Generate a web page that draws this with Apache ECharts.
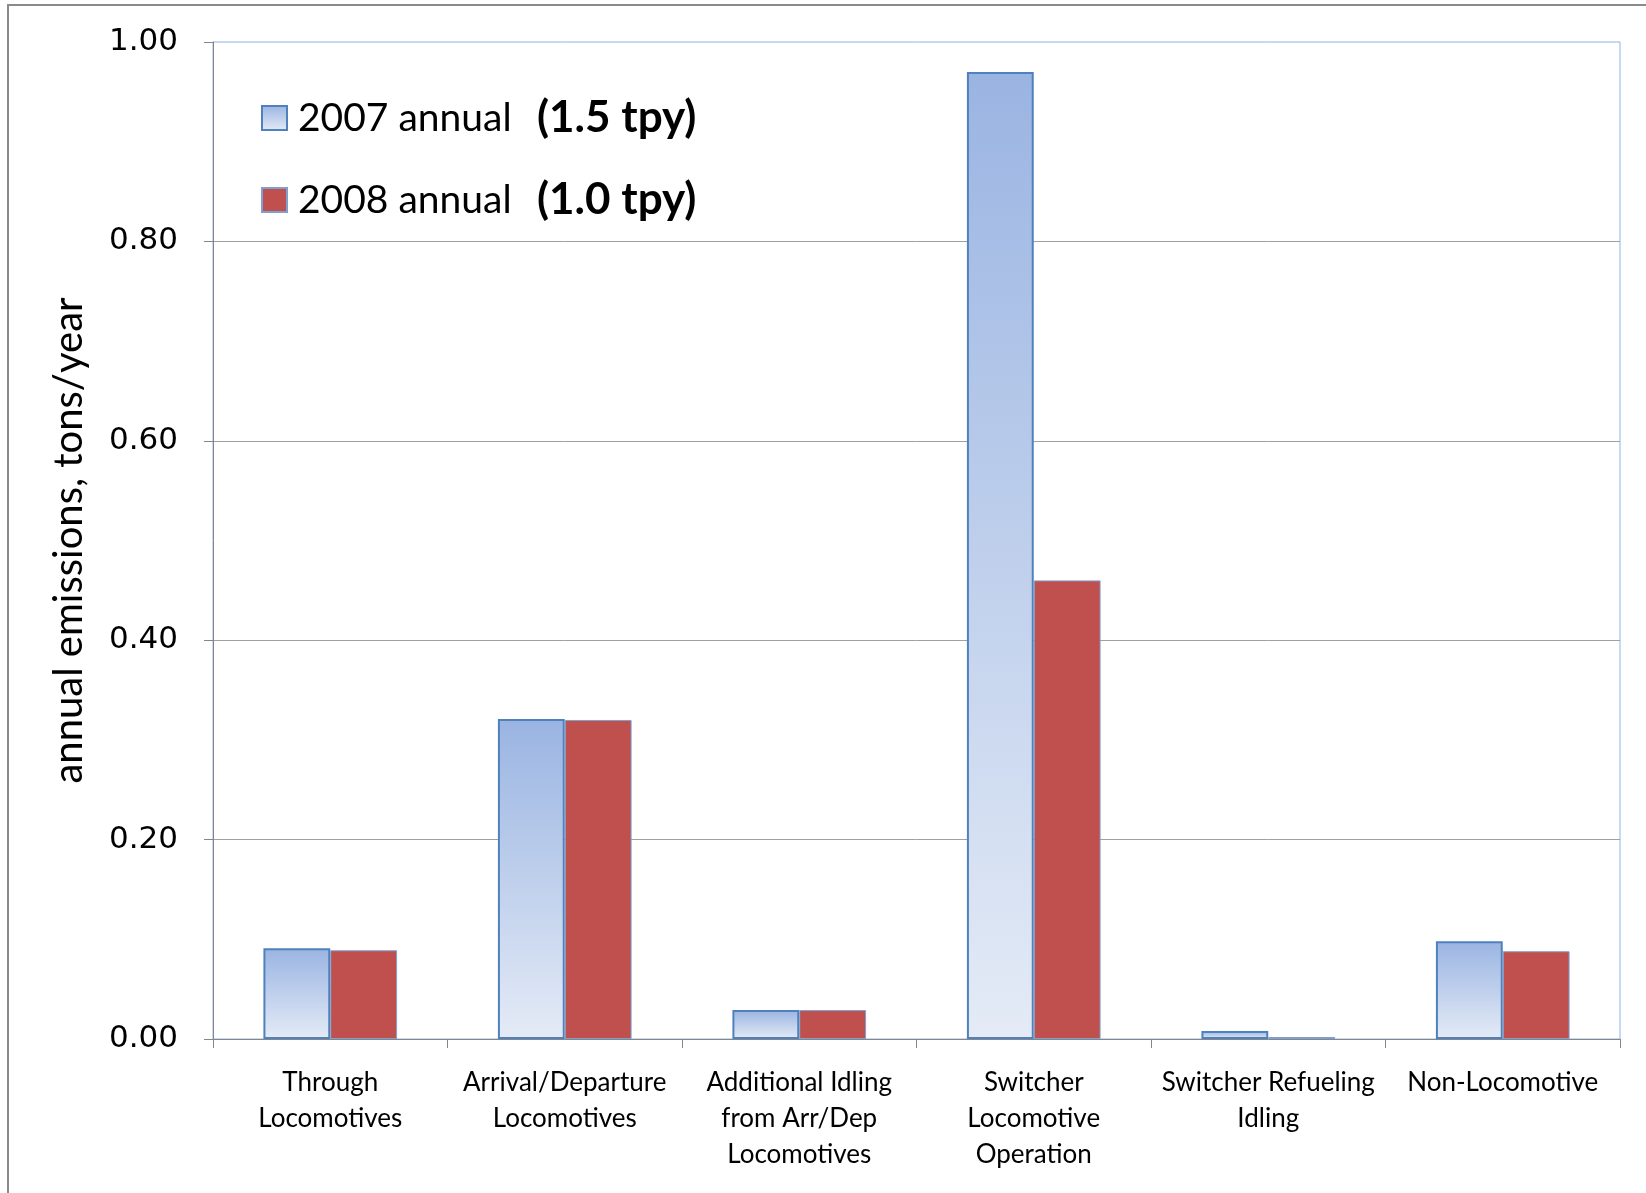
<!DOCTYPE html>
<html>
<head>
<meta charset="utf-8">
<script src="https://cdn.jsdelivr.net/npm/echarts@6/dist/echarts.min.js"></script>
<style>
  html, body { margin: 0; padding: 0; background: #ffffff; }
  #chart { width: 1646px; height: 1193px; }
</style>
</head>
<body>
<div id="chart"></div>
<script>
// Emission sources along the x axis
const categories = [
  'Through\nLocomotives',
  'Arrival/Departure\nLocomotives',
  'Additional Idling\nfrom Arr/Dep\nLocomotives',
  'Switcher\nLocomotive\nOperation',
  'Switcher Refueling\nIdling',
  'Non-Locomotive'
];

// Annual emissions, tons/year
const values2007 = [0.091, 0.321, 0.029, 0.970, 0.008, 0.098];
const values2008 = [0.089, 0.320, 0.029, 0.460, 0.002, 0.088];

// Series names and yearly totals shown in the legend
const seriesNames = ['2007 annual', '2008 annual'];
const seriesTotals = ['(1.5 tpy)', '(1.0 tpy)'];

// Value axis ticks
const yTicks = { min: 0, max: 1.0, interval: 0.2 };

const chart = echarts.init(document.getElementById('chart'), null, { renderer: 'canvas' });

const latin = 'Lato, "Open Sans", sans-serif';

chart.setOption({
  animation: false,
  backgroundColor: '#ffffff',
  graphic: [{
    type: 'rect',
    shape: { x: 8, y: 5, width: 1700, height: 1300 },
    style: { fill: 'none', stroke: '#8a8a8a', lineWidth: 2 },
    silent: true
  }],
  grid: {
    left: 213, top: 42, right: 26, bottom: 154,
    show: true, borderColor: '#8EB4E3', borderWidth: 1, backgroundColor: 'transparent'
  },
  legend: {
    orient: 'vertical',
    left: 261, top: 96,
    padding: 0,
    itemGap: 38,
    itemWidth: 25, itemHeight: 24,
    icon: 'rect',
    data: seriesNames,
    formatter: function (name) {
      const i = seriesNames.indexOf(name);
      return '{n|' + name + '}{b|' + seriesTotals[i] + '}';
    },
    textStyle: {
      rich: {
        n: { fontFamily: latin, fontSize: 39, color: '#000', width: 239, padding: [0, 0, 0, 6], lineHeight: 48 },
        b: { fontFamily: latin, fontSize: 44, fontWeight: 'bold', color: '#000', lineHeight: 48 }
      }
    }
  },
  xAxis: {
    type: 'category',
    data: categories,
    axisLine: { lineStyle: { color: '#868686', width: 1 } },
    axisTick: { show: true, length: 9, lineStyle: { color: '#868686' } },
    axisLabel: {
      interval: 0, margin: 26, color: '#000',
      fontFamily: latin, fontSize: 26, lineHeight: 36
    },
    splitLine: { show: false }
  },
  yAxis: {
    type: 'value',
    min: yTicks.min, max: yTicks.max, interval: yTicks.interval,
    name: 'annual emissions, tons/year',
    nameLocation: 'middle',
    nameRotate: 90,
    nameGap: 124,
    nameTextStyle: { fontFamily: latin, fontSize: 40, color: '#000' },
    axisLine: { show: true, lineStyle: { color: '#868686', width: 1 } },
    axisTick: { show: true, length: 9, lineStyle: { color: '#868686' } },
    axisLabel: {
      margin: 35, color: '#000',
      fontFamily: '"DejaVu Sans", sans-serif', fontSize: 31,
      formatter: v => v.toFixed(2)
    },
    splitLine: {
      show: true, showMinLine: false, showMaxLine: false,
      lineStyle: { color: '#A0A0A0', width: 1 }
    }
  },
  series: [
    {
      name: seriesNames[0],
      type: 'bar',
      data: values2007,
      barGap: '0%',
      barCategoryGap: '43%',
      itemStyle: {
        color: new echarts.graphic.LinearGradient(0, 0, 0, 1, [
          { offset: 0, color: '#9AB4E2' },
          { offset: 1, color: '#E4EBF6' }
        ]),
        borderColor: '#4F81BD',
        borderWidth: 2
      }
    },
    {
      name: seriesNames[1],
      type: 'bar',
      data: values2008,
      barGap: '0%',
      barCategoryGap: '43%',
      itemStyle: {
        color: '#C0504D',
        borderColor: '#7EA0D0',
        borderWidth: 1
      }
    }
  ]
});
</script>
</body>
</html>
